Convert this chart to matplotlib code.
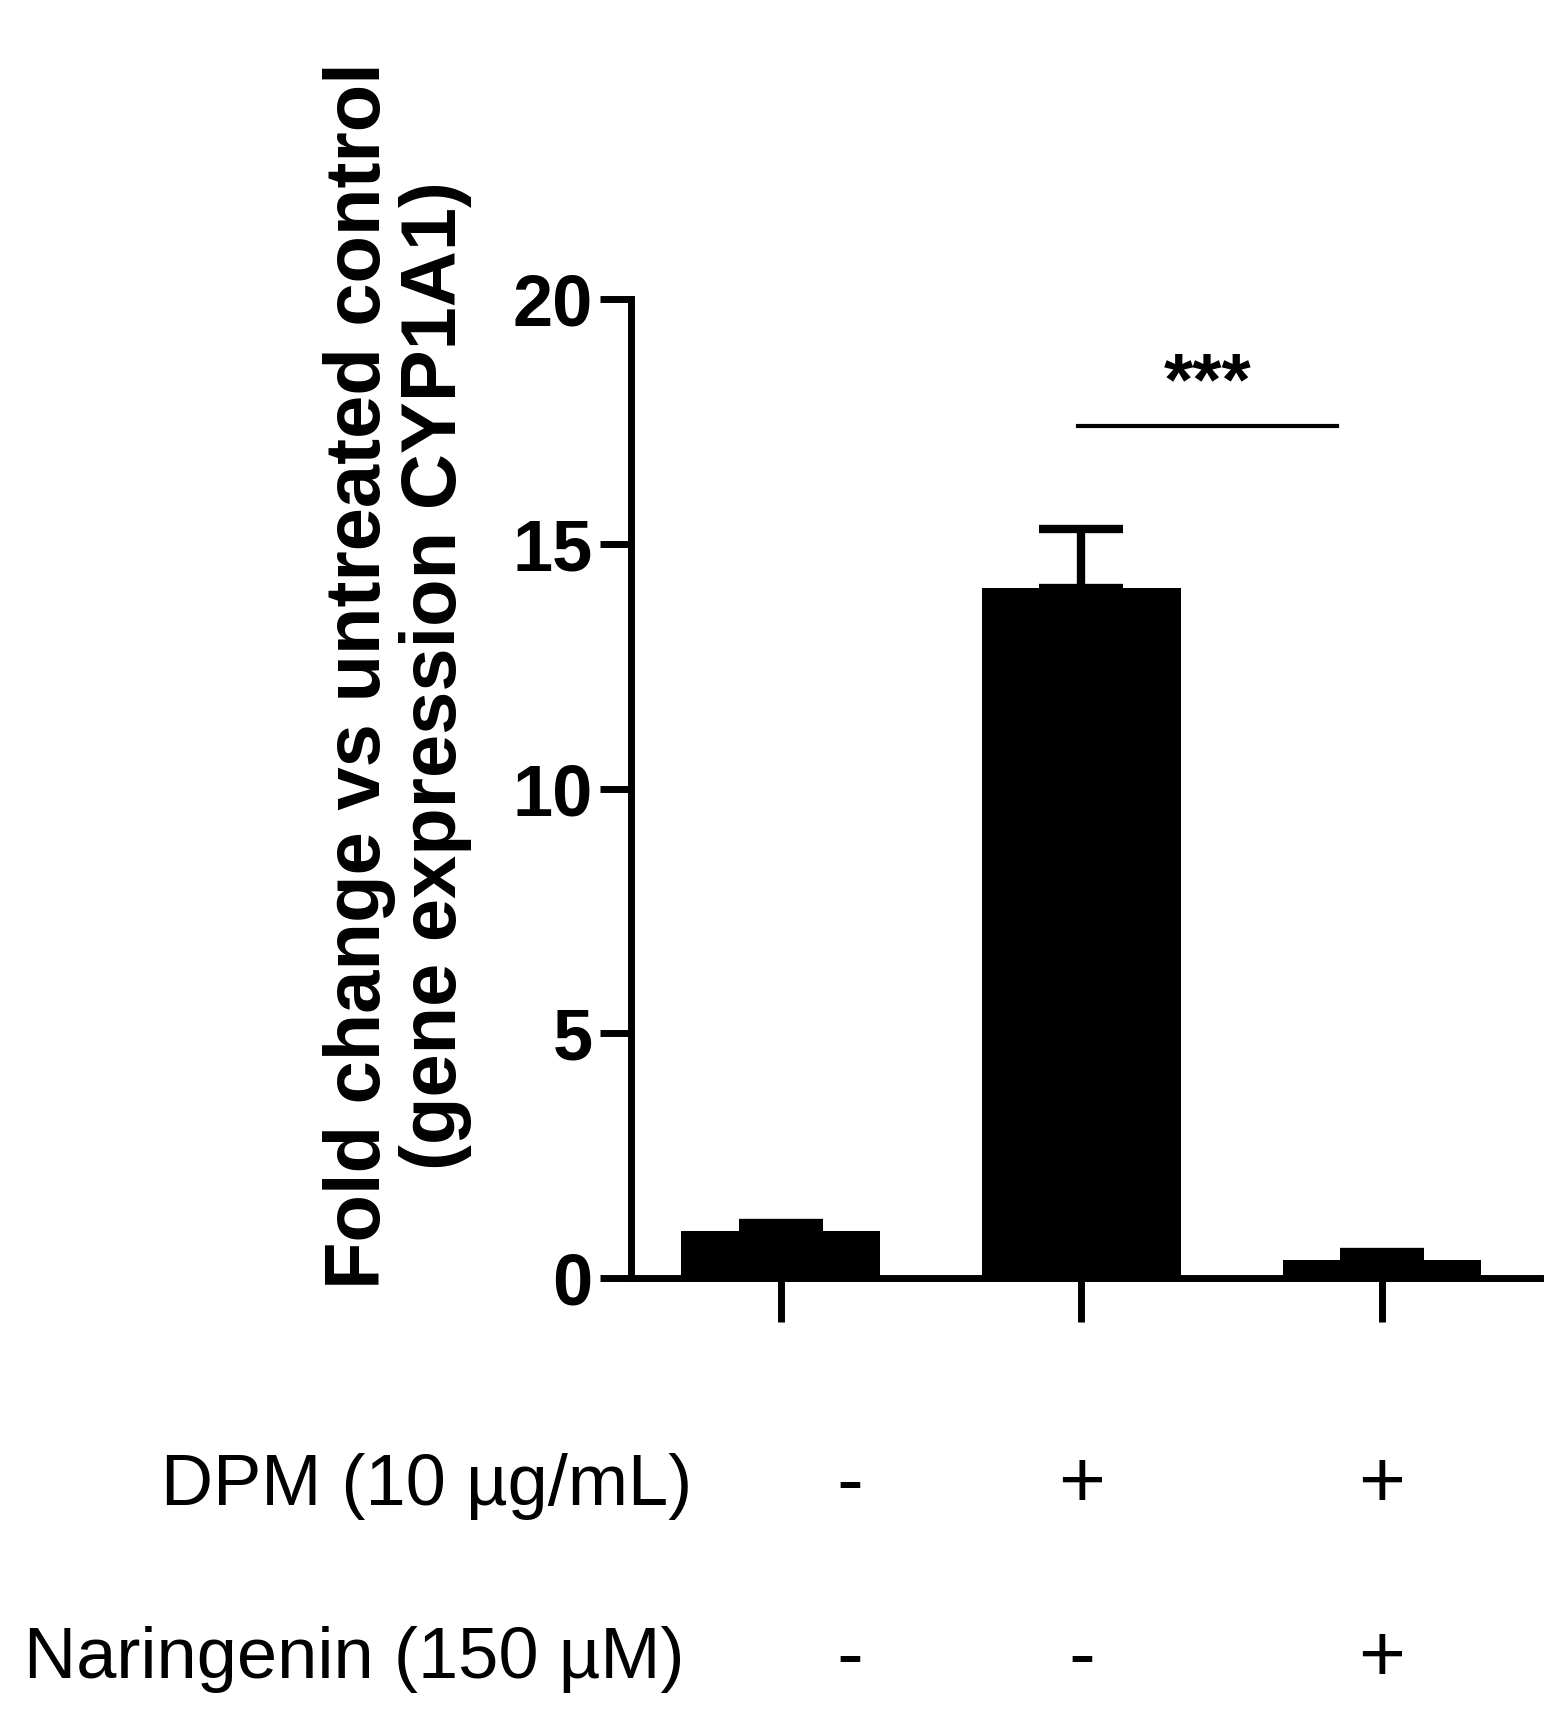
import matplotlib.pyplot as plt

plt.rcParams['font.family'] = ['Liberation Sans', 'DejaVu Sans']

groups = [0, 1, 2]
means = [0.96, 14.1, 0.38]
errs = [0.16, 1.2, 0.16]
dpm = ['-', '+', '+']
nar = ['-', '-', '+']

fig = plt.figure(figsize=(15.59, 17.18), dpi=100)
ax = fig.add_axes([0.405, 0.256, 0.583, 0.570])

ax.bar(groups, means, width=0.66, color='black', zorder=2)
ax.errorbar(groups, means, yerr=[[0, 0, 0], errs], fmt='none', ecolor='black',
            elinewidth=6, capsize=30, capthick=6, zorder=1)

ax.set_xlim(-0.496, 2.526)
ax.set_ylim(0, 20)
ax.set_yticks([0, 5, 10, 15, 20])
ax.set_xticks(groups)
ax.set_xticklabels([])
for s in ['top', 'right']:
    ax.spines[s].set_visible(False)
ax.spines['left'].set_linewidth(5)
ax.spines['bottom'].set_linewidth(5)
ax.tick_params(axis='y', length=22, width=5, labelsize=52, pad=6)
ax.tick_params(axis='x', length=32, width=5)
for t in ax.get_yticklabels():
    t.set_fontweight('bold')

# significance bar
ax.plot([0.99, 1.85], [17.4, 17.4], color='black', lw=3)
ax.text(1.42, 17.55, '***', ha='center', va='bottom', fontsize=54, fontweight='bold')

fig.text(0.255, 0.607, 'Fold change vs untreated control\n(gene expression CYP1A1)',
         rotation=90, ha='center', va='center', fontsize=56, fontweight='bold',
         multialignment='center', linespacing=1.05)

fig.text(0.444, 0.135, 'DPM (10 µg/mL)', ha='right', va='center', fontsize=52)
fig.text(0.439, 0.034, 'Naringenin (150 µM)', ha='right', va='center', fontsize=52)
xs = [0.23, 1.0, 2.0]
for x, a, b in zip(xs, dpm, nar):
    fx = fig.transFigure.inverted().transform(ax.transData.transform((x, 0)))[0]
    fig.text(fx, 0.135, a, ha='center', va='center', fontsize=58)
    fig.text(fx, 0.034, b, ha='center', va='center', fontsize=58)

fig.savefig('out.png', dpi=100)
